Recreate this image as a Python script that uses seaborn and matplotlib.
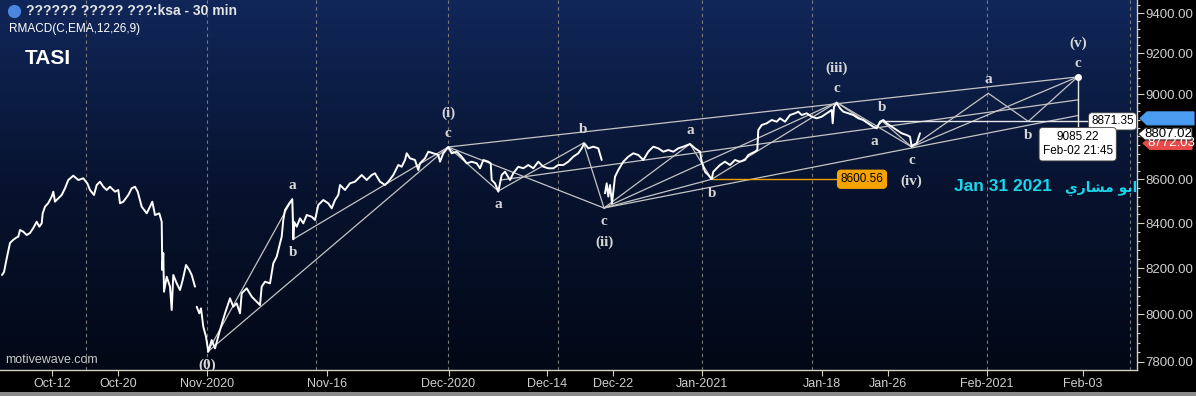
import numpy as np
import pandas as pd
import matplotlib
matplotlib.use("Agg")
import matplotlib.pyplot as plt
import seaborn as sns
from matplotlib.colors import LinearSegmentedColormap
from matplotlib.patches import Polygon, Rectangle
from matplotlib.ticker import FixedLocator, NullFormatter, FuncFormatter
from matplotlib.transforms import IdentityTransform

# ---- TASI 30 min closes (x = bar position on the chart) ----
close_x = [2, 4, 7, 10, 13, 16.5, 18.3, 20, 23.3, 26.7, 30, 33.3, 36.7, 39.3, 41.7, 42.7,
           45, 48.3, 51.7, 53.3, 55, 58.3, 61.7, 65, 68.3, 73.3, 78.3, 83.3, 87.3, 90, 94,
           96.7, 100, 103.3, 106.7, 110, 115, 118.3, 120, 123.3, 128.3, 131.7, 135, 137.7,
           141.7, 146.7, 150, 152.3, 155, 159.3, 161.7, 162.3, 163.3, 164, 166.7, 170, 171.7,
           173.3, 176.7, 180, 182.7, 186, 189.3, 191.7, 195,
           196.7, 199.3, 201, 203.3, 206, 208.3, 211.7, 215, 220, 225, 230, 233.3, 236.7, 240,
           241.7, 246.7, 251.7, 255, 260, 261.7, 265, 270, 273.3, 276.7, 280, 281.7, 283.3,
           285, 289.3, 292.3, 293.3, 294.3, 296.7, 300, 303.3, 306.7, 311.7, 315, 318.3, 323.3,
           328.3, 331.7, 335, 338.3, 340, 345, 350, 355, 361.7, 366.7, 371.7, 375, 380, 385,
           388.3, 393.3, 398.3, 401.7, 405, 406.7, 410, 415, 418.3, 420, 425, 428.3, 433.3,
           438.3, 440, 443.3, 448.3, 451.7, 456.7, 461.7, 466.7, 471.7, 476.7, 480, 483.3,
           488.3, 490.7, 491.7, 495, 498.3, 501.7, 505, 510, 513.3, 518.3, 523.3, 528.3, 533.3,
           538.3, 543.3, 548.3, 553.3, 558.3, 563.3, 568.3, 573.3, 578.3, 581.7, 584.3, 588.3,
           593.3, 598.3, 601.7,
           605, 606.7, 608.3, 610, 612, 615, 618.3, 623.3, 628.3, 633.3, 638.3, 643.3, 648.3,
           653.3, 658.3, 663.3, 668.3, 673.3, 678.3, 683.3, 690, 695, 700, 701.7, 705, 708.3,
           711.7, 713.3, 720, 725, 730, 735, 740, 745, 748.3, 751.7, 755, 757.3, 758.3, 761.7,
           766.7, 771.7, 776.7, 780, 785, 790, 795, 798.3, 801.7, 806.7, 811.7, 816.7, 821.7,
           826.7, 831.7, 832.7, 834, 836.7, 840, 843.3, 848.3, 853.3, 858.3, 863.3, 868.3,
           873.3, 876.7, 880, 883.3, 886.7, 891.7, 896.7, 901.7, 906.7, 910, 911.7, 913.3,
           916.7, 920]
close_y = [8170.6, 8183.7, 8249.8, 8311.8, 8325.2, 8336.4, 8340.0, 8369.9, 8362.3, 8347.5,
           8356.5, 8379.0, 8407.0, 8384.8, 8399.8, 8445.0, 8475.0, 8491.8, 8521.0, 8543.5,
           8497.8, 8513.2, 8528.3, 8559.0, 8597.1, 8616.9, 8597.1, 8604.9, 8581.9, 8551.2,
           8528.3, 8574.1, 8589.3, 8566.2, 8551.2, 8566.2, 8543.5, 8551.2, 8490.4, 8497.8,
           8528.3, 8559.0, 8566.2, 8543.5, 8475.0, 8445.0, 8475.0, 8497.8, 8437.4, 8445.0,
           8407.0, 8192.5, 8267.4, 8097.8, 8163.1, 8119.7, 8018.8, 8170.6, 8134.2, 8105.2,
           8148.7, 8214.5, 8192.5, 8170.6, 8119.7,
           8033.0, 8004.6, 8026.1, 7947.4, 7905.0, 7841.7, 7891.0, 7856.0, 7933.4, 8004.6,
           8069.2, 8033.0, 8047.6, 8004.6, 8090.9, 8112.6, 8076.5, 8061.9, 8040.3, 8119.7,
           8141.3, 8134.2, 8221.9, 8251.3, 8310.5, 8340.1, 8414.8, 8460.0, 8490.4, 8508.7,
           8328.3, 8405.8, 8384.8, 8422.5, 8399.8, 8437.4, 8429.7, 8414.8, 8482.7, 8505.5,
           8490.4, 8467.7, 8505.5, 8528.3, 8574.1, 8551.2, 8581.9, 8589.3, 8620.1, 8597.1,
           8620.1, 8628.0, 8589.3, 8574.1, 8589.3, 8620.1, 8666.4, 8658.5, 8689.7, 8721.0,
           8697.6, 8689.7, 8643.2, 8674.3, 8697.6, 8728.5, 8721.0, 8713.0, 8681.8, 8721.0,
           8750.4, 8721.0, 8728.5, 8705.2, 8674.3, 8681.8, 8674.3, 8651.1, 8689.7, 8681.8,
           8674.3, 8597.1, 8581.9, 8543.5, 8620.1, 8635.4, 8597.1, 8628.0, 8658.5, 8651.1,
           8666.4, 8651.1, 8681.8, 8658.5, 8651.1, 8651.1, 8666.4, 8666.4, 8681.8, 8705.2,
           8721.0, 8744.2, 8767.9, 8744.2, 8751.9, 8744.2, 8689.7,
           8536.0, 8581.9, 8521.0, 8574.1, 8490.4, 8612.4, 8643.2, 8681.8, 8705.2, 8721.0,
           8713.0, 8689.7, 8728.5, 8751.9, 8744.2, 8728.5, 8736.3, 8728.5, 8744.2, 8751.9,
           8764.5, 8744.2, 8728.5, 8681.8, 8635.4, 8620.1, 8600.6, 8635.4, 8666.4, 8681.8,
           8666.4, 8689.7, 8681.8, 8689.7, 8713.0, 8721.0, 8728.5, 8736.3, 8830.4, 8854.1,
           8862.1, 8877.9, 8869.8, 8886.0, 8869.8, 8901.6, 8909.8, 8917.4, 8901.6, 8909.8,
           8893.5, 8886.0, 8893.5, 8909.8, 8925.5, 8862.1, 8941.6, 8959.1, 8933.7, 8917.4,
           8909.8, 8901.6, 8886.0, 8877.9, 8862.1, 8846.0, 8838.4, 8869.8, 8877.9, 8862.1,
           8846.0, 8830.4, 8814.8, 8806.8, 8798.9, 8751.9, 8759.8, 8767.7, 8814.8]
gap_bars = [196, 603]

# ---- elliott wave pivots ----
wave_x = [207.5, 292.3, 293.5, 448.3, 498.3, 583.5, 604, 690, 711.7, 836.7, 874.5, 882.5,
          911.7, 988.3, 1028.3, 1077.7]
wave_y = [7840.6, 8510.0, 8329.7, 8750.4, 8546.6, 8769.2, 8469.1, 8764.5, 8600.56, 8962.4,
          8839.9, 8871.35, 8750.4, 9005.7, 8871.35, 9085.22]
wave_letter = ["", "a", "b", "c", "a", "b", "c", "a", "b", "c", "a", "b", "c", "a", "b", "c"]
wave_degree = ["(0)", "", "", "(i)", "", "", "(ii)", "", "", "(iii)", "", "", "(iv)", "", "", "(v)"]
wave_side = [-1, 1, -1, 1, -1, 1, -1, 1, -1, 1, -1, 1, -1, 1, -1, 1]
wave_legs = [(0, 1), (1, 2), (2, 3), (0, 3), (3, 4), (4, 5), (5, 6), (3, 6), (6, 7), (7, 8),
             (8, 9), (6, 9), (6, 8), (9, 10), (10, 11), (11, 12), (9, 12), (12, 13), (13, 14),
             (14, 15), (12, 15), (3, 15)]

# extra channel lines (start bar, start price, end bar, end price)
chan_x0 = [604, 500]
chan_y0 = [8469.1, 8596.6]
chan_x1 = [1077.7, 1077.7]
chan_y1 = [8899.0, 8974.0]

date_ticks = [52.4, 117.9, 206.6, 327, 448.5, 547, 613, 701.5, 822, 888, 986.7, 1083]
date_labels = ["Oct-12", "Oct-20", "Nov-2020", "Nov-16", "Dec-2020", "Dec-14", "Dec-22",
               "Jan-2021", "Jan-18", "Jan-26", "Feb-2021", "Feb-03"]
grid_bars = [85.7, 206.7, 316, 448.3, 558.3, 701.7, 811.7, 986.7, 1130]
price_ticks = [7800, 8000, 8200, 8400, 8600, 8800, 9000, 9200, 9400]
price_hidden = [8800]  # label sits under the price tags
price_minor = list(range(7760, 9480, 40))

last_price = 8807.02
prev_price = 8772.03
b_level = 8871.35
b3_level = 8600.56
target_price = 9085.22
target_time = "Feb-02 21:45"

W, H = 1196, 396
AX_W, AX_H = 1137, 370

sns.set_theme(style="dark")
plt.rcParams["font.family"] = ["Liberation Sans", "DejaVu Sans"]

fig = plt.figure(figsize=(W / 100, H / 100), dpi=100, facecolor="black")
rect = [0, 1 - AX_H / H, AX_W / W, AX_H / H]

# background gradient
bg = fig.add_axes(rect, zorder=0)
cmap = LinearSegmentedColormap.from_list("bg", ["#11275a", "#07132f", "#030816"])
bg.imshow(np.linspace(0, 1, 256).reshape(-1, 1), cmap=cmap, aspect="auto",
          extent=[0, 1, 0, 1], origin="upper")
bg.axis("off")

ax = fig.add_axes(rect, zorder=1)
ax.set_facecolor("none")


def ax_pos(px, py):
    return px / AX_W, 1 - py / AX_H


# dashed grid
for g in grid_bars:
    ax.axvline(g, color="#7a7a7a", lw=0.8, ls=(0, (3, 3)), zorder=1)

# price line
price_df = pd.DataFrame({"bar": close_x, "close": close_y})
price_df["seg"] = np.digitize(price_df["bar"], gap_bars)
sns.lineplot(data=price_df, x="bar", y="close", units="seg", estimator=None, sort=False,
             color="white", lw=1.4, legend=False, ax=ax, zorder=4)

# wave legs and channels
rows = []
for k, (i, j) in enumerate(wave_legs):
    rows.append({"leg": k, "bar": wave_x[i], "price": wave_y[i]})
    rows.append({"leg": k, "bar": wave_x[j], "price": wave_y[j]})
for k in range(len(chan_x0)):
    rows.append({"leg": 100 + k, "bar": chan_x0[k], "price": chan_y0[k]})
    rows.append({"leg": 100 + k, "bar": chan_x1[k], "price": chan_y1[k]})
legs_df = pd.DataFrame(rows)
sns.lineplot(data=legs_df, x="bar", y="price", units="leg", estimator=None, sort=False,
             color="#c4c4c4", lw=0.9, legend=False, ax=ax, zorder=3)

# horizontal levels
ax.plot([wave_x[11], 1088], [b_level, b_level], color="#e6e6e6", lw=1.0, zorder=3)
ax.plot([wave_x[8], 836], [b3_level, b3_level], color="#f0a000", lw=1.0, zorder=3)
ax.plot([wave_x[15], wave_x[15]], [target_price, 8694], color="#e6e6e6", lw=1.0, zorder=3)
ax.plot([wave_x[15]], [target_price], "o", color="white", ms=4, zorder=6)

ax.set_yscale("log")
ax.set_xlim(0, AX_W)
ax.set_ylim(7765.3, 9467.2)
ax.set_xlabel("")
ax.set_ylabel("")

# wave labels
lab_kw = dict(textcoords="offset points", ha="center", va="center", color="#d6d6d6",
              fontfamily="Liberation Serif", fontweight="bold", fontsize=11, zorder=7)
for i in range(len(wave_x)):
    s = wave_side[i]
    if wave_letter[i]:
        ax.annotate(wave_letter[i], (wave_x[i], wave_y[i]), xytext=(0, 10 * s), **lab_kw)
        off = 24.5
    else:
        off = 9.5
    if wave_degree[i]:
        t = ax.annotate(wave_degree[i], (wave_x[i], wave_y[i]), xytext=(0, off * s), **lab_kw)
        t.set_clip_box(ax.bbox)
        t.set_clip_on(True)

# value boxes
ax.text(1112.5, b_level, f"{b_level:.2f}", ha="center", va="center", fontsize=8.5,
        color="black", zorder=8,
        bbox=dict(boxstyle="round,pad=0.22,rounding_size=0.3", fc="white", ec="#444444", lw=0.6))
ax.text(862, b3_level, f"{b3_level:.2f}", ha="center", va="center", fontsize=8.5,
        color="black", zorder=8,
        bbox=dict(boxstyle="round,pad=0.25,rounding_size=0.3", fc="#f5a300", ec="#f5a300"))
ax.annotate(f"{target_price:.2f}\n{target_time}", (wave_x[15], target_price), xytext=(0, -48.5),
            textcoords="offset points", ha="center", va="center", fontsize=8.5, color="black",
            linespacing=1.25, zorder=8,
            bbox=dict(boxstyle="round,pad=0.3,rounding_size=0.3", fc="white", ec="#444444", lw=0.6))

# axes styling
for side in ["top", "left"]:
    ax.spines[side].set_visible(False)
for side in ["right", "bottom"]:
    ax.spines[side].set_color("#d5d1bf")
    ax.spines[side].set_linewidth(1.0)
ax.yaxis.tick_right()
ax.yaxis.set_major_locator(FixedLocator(price_ticks))
ax.yaxis.set_major_formatter(FuncFormatter(lambda v, p: "" if round(v) in price_hidden else f"{v:.2f}"))
ax.yaxis.set_minor_locator(FixedLocator(price_minor))
ax.yaxis.set_minor_formatter(NullFormatter())
ax.tick_params(axis="y", which="major", length=5, width=0.8, color="#d5d1bf",
               labelcolor="#cfcfcf", labelsize=9.5, pad=1, right=True, left=False)
ax.tick_params(axis="y", which="minor", length=2.5, width=0.8, color="#d5d1bf", right=True, left=False)
ax.set_xticks(date_ticks, date_labels)
ax.tick_params(axis="x", which="major", length=4, width=0.8, color="#d5d1bf",
               labelcolor="#cfcfcf", labelsize=9, pad=1.5, bottom=True)
ax.grid(False)

# header texts
ax.plot(*ax_pos(14, 11), "o", color="#4a86e0", ms=8.5, transform=ax.transAxes, clip_on=False)
ax.text(*ax_pos(26, 11), "?????? ????? ???:ksa - 30 min", transform=ax.transAxes,
        ha="left", va="center", fontsize=10, fontweight="bold", color="#e4e4e4")
ax.text(*ax_pos(9, 29), "RMACD(C,EMA,12,26,9)", transform=ax.transAxes,
        ha="left", va="center", fontsize=8.5, color="white")
ax.text(*ax_pos(25, 58), "TASI", transform=ax.transAxes,
        ha="left", va="center", fontsize=15, fontweight="bold", color="white")
ax.text(*ax_pos(5, 360), "motivewave.com", transform=ax.transAxes,
        ha="left", va="center", fontsize=9, color="#c8c8c8")
ax.text(*ax_pos(1003, 187), "Jan 31 2021", transform=ax.transAxes,
        ha="center", va="center", fontsize=12.5, fontweight="bold", color="#1ad6ea")
ax.text(*ax_pos(1101, 188), "\ufef1\ufead\ufe8e\ufeb8\ufee3 \ufeee\ufe91\ufe8d",
        transform=ax.transAxes, ha="center", va="center", fontsize=10, fontweight="bold",
        color="#1ad6ea", family=["DejaVu Sans"])


# price tags on the right axis
def tag(price, text, face, edge, tcolor, x0, x1, h=13, dy=0):
    yd = ax.transData.transform((AX_W, price))[1] + dy
    pts = [(x0, yd), (x0 + 7, yd + h / 2), (x1, yd + h / 2), (x1, yd - h / 2), (x0 + 7, yd - h / 2)]
    fig.add_artist(Polygon(pts, closed=True, transform=IdentityTransform(), fc=face, ec=edge,
                           lw=0.8, zorder=5))
    if text:
        fig.text((x0 + 7 + x1) / 2, yd, text, transform=IdentityTransform(), ha="center",
                 va="center", fontsize=9.5, color=tcolor, zorder=6)


tag(b_level, "", "#4a9cf0", "#4a9cf0", "white", 1140, 1194, dy=3)
tag(prev_price, f"{prev_price:.2f}", "#e84a4a", "#e84a4a", "white", 1143, 1192, h=12, dy=-1)
tag(last_price, f"{last_price:.2f}", "white", "#222222", "black", 1138, 1192, h=12, dy=1)

# bottom strip
fig.add_artist(Rectangle((0, 0), 1, 4 / H, transform=fig.transFigure, fc="#8a8a8a", ec="none"))

fig.savefig("out.png", dpi=100, facecolor=fig.get_facecolor())
